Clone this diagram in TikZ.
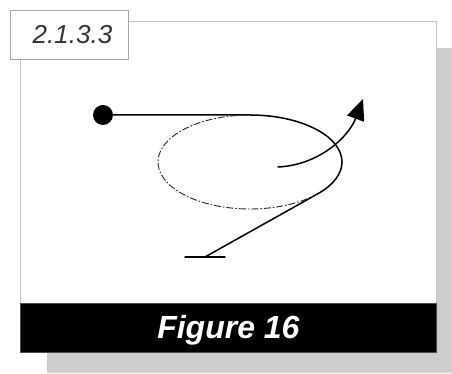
\documentclass[tikz,border=0pt]{standalone}
\usepackage{fontspec}
\setmainfont{Liberation Sans}
\usepackage{tikz}
\usetikzlibrary{arrows.meta, positioning, calc}
\definecolor{ShadowGray}{RGB}{204, 204, 204}
\definecolor{FrameGray}{RGB}{196, 196, 196}
\definecolor{LabelGray}{RGB}{51, 51, 51}

\begin{document}
\begin{tikzpicture}[x=1pt, y=1pt,
    pathline/.style={line width=1.5pt, line cap=round},
    hiddenline/.style={line width=0.9pt, draw=black!85, dash pattern=on 7pt off 2pt on 1.5pt off 2pt}]
  \useasboundingbox (0,0) rectangle (452,374);
  % shadow, frame, caption band and number tag
  \fill[ShadowGray] (47,1) rectangle (452,326);
  \node[draw=FrameGray, fill=white, line width=1pt, inner sep=0pt, anchor=north west,
        minimum width=416pt, minimum height=331pt] (frame) at (20,353) {};
  \node[draw=black!70, fill=black, line width=0.8pt, inner sep=0pt, anchor=south west,
        minimum width=416pt, minimum height=49pt] (band) at (frame.south west) {};
  \node[text=white, yshift=-2pt] (caption) at (band.center)
        {\fontsize{32}{36}\selectfont\bfseries\itshape Figure 16};
  \node[draw=FrameGray!85!black, fill=white, line width=1pt, inner sep=0pt, anchor=north west,
        minimum width=118pt, minimum height=49pt] (tag) at (10,364) {};
  \node[text=LabelGray, xshift=3pt] (tagtext) at (tag.center)
        {\fontsize{26}{30}\selectfont\itshape 2.1.3.3};
  % the loop
  \node[circle, fill=black, inner sep=0pt, minimum size=20pt] (start) at (103,259) {};
  \coordinate (top) at (250,259);
  \coordinate (foot) at (205,117);
  \coordinate (barL) at (185,117);
  \coordinate (barR) at (225,117);
  \draw[pathline] (start.center) -- (top)
        arc[start angle=90, end angle=-42, x radius=92, y radius=47] coordinate (leave) -- (foot);
  \draw[hiddenline] (leave) arc[start angle=-42, end angle=-270, x radius=92, y radius=47];
  \draw[pathline] (barL) -- (barR);
  % the way out
  \coordinate (turn) at (278,207);
  \coordinate (tip) at (363,275);
  \draw[pathline, -{Triangle[length=21pt, width=18pt]}] (turn) .. controls (320,209) and (349,238) .. (tip);
\end{tikzpicture}
\end{document}
